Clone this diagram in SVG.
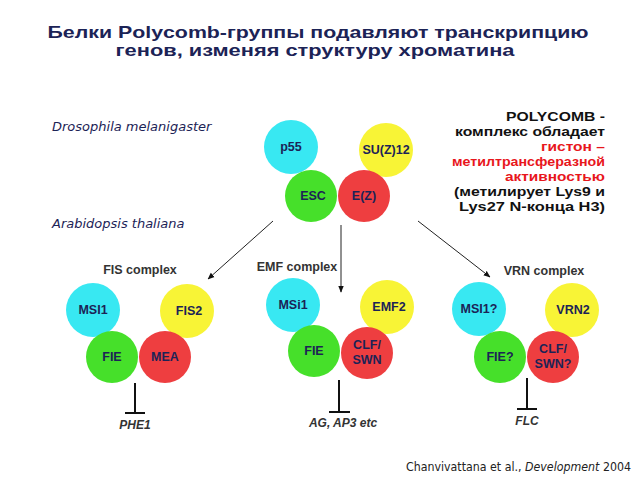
<svg xmlns="http://www.w3.org/2000/svg" width="640" height="480" viewBox="0 0 640 480">
<defs>
<marker id="ah" viewBox="0 0 10 10" refX="9" refY="5" markerWidth="7" markerHeight="7" orient="auto" markerUnits="userSpaceOnUse">
<path d="M0,1 L10,5 L0,9 z" fill="#111"/>
</marker>
<style>
.title{font-family:"Liberation Sans",Arial,sans-serif;font-weight:bold;font-size:17px;fill:#1c2356;text-anchor:middle}
.cy{fill:#38e8f2}.ye{fill:#f8f436}.gr{fill:#46e02a}.rd{fill:#ee3e40}
.lbl{font-family:"Liberation Sans",Arial,sans-serif;font-weight:bold;font-size:12.5px;fill:#1c2356;text-anchor:middle}
.cx{font-family:"Liberation Sans",Arial,sans-serif;font-weight:bold;font-size:12.5px;fill:#333;text-anchor:middle}
.gene{font-family:"Liberation Sans",Arial,sans-serif;font-weight:bold;font-style:italic;font-size:12px;fill:#333;text-anchor:middle}
.sp{font-family:"DejaVu Sans",sans-serif;font-style:italic;font-size:13px;fill:#1c2356}
.rt{font-family:"Liberation Sans",Arial,sans-serif;font-weight:bold;font-size:13.5px;text-anchor:end}
.conn{stroke:#222;stroke-width:1;fill:none}
.inh{stroke:#111;stroke-width:2;fill:none}
</style>
</defs>
<rect width="640" height="480" fill="#fff"/>
<g id="title">
<text class="title" x="318" y="38" textLength="541" lengthAdjust="spacingAndGlyphs">Белки Polycomb-группы подавляют транскрипцию</text>
<text class="title" x="315" y="56" textLength="399" lengthAdjust="spacingAndGlyphs">генов, изменяя структуру хроматина</text>
</g>
<g id="species">
<text class="sp" x="52" y="131">Drosophila melanigaster</text>
<text class="sp" x="52" y="228">Arabidopsis thaliana</text>
</g>
<g id="desc">
<text class="rt" x="605" y="121" fill="#111" textLength="99" lengthAdjust="spacingAndGlyphs">POLYCOMB -</text>
<text class="rt" x="605" y="136" fill="#111" textLength="150" lengthAdjust="spacingAndGlyphs">комплекс обладает</text>
<text class="rt" x="605" y="151" fill="#e8161c" textLength="64" lengthAdjust="spacingAndGlyphs">гистон –</text>
<text class="rt" x="605" y="166" fill="#e8161c" textLength="153" lengthAdjust="spacingAndGlyphs">метилтрансферазной</text>
<text class="rt" x="605" y="181" fill="#e8161c" textLength="100" lengthAdjust="spacingAndGlyphs">активностью</text>
<text class="rt" x="605" y="196" fill="#111" textLength="151" lengthAdjust="spacingAndGlyphs">(метилирует Lys9 и</text>
<text class="rt" x="605" y="211" fill="#111" textLength="146" lengthAdjust="spacingAndGlyphs">Lys27 N-конца H3)</text>
</g>
<g id="drosophila">
<g id="p55"><circle class="cy" cx="291" cy="147" r="27"/><text class="lbl" x="291" y="151">p55</text></g>
<g id="suz12"><circle class="ye" cx="386" cy="150" r="27"/><text class="lbl" x="386" y="154">SU(Z)12</text></g>
<g id="esc"><circle class="gr" cx="311" cy="196" r="26"/><text class="lbl" x="313" y="200">ESC</text></g>
<g id="ez"><circle class="rd" cx="364" cy="196" r="26"/><text class="lbl" x="364" y="200">E(Z)</text></g>
</g>
<g id="connectors">
<line class="conn" x1="273" y1="221" x2="208" y2="279" marker-end="url(#ah)"/>
<line class="conn" x1="341" y1="225" x2="341" y2="292" marker-end="url(#ah)"/>
<line class="conn" x1="418" y1="221" x2="490" y2="277" marker-end="url(#ah)"/>
<path class="inh" d="M135,383 V413 M125,413 H145"/>
<path class="inh" d="M339,380 V412 M329,412 H350"/>
<path class="inh" d="M527,378 V409 M517,409 H537"/>
</g>
<g id="fis">
<text class="cx" x="140" y="274">FIS complex</text>
<g id="fis-msi1"><circle class="cy" cx="93" cy="310" r="27"/><text class="lbl" x="93" y="314">MSI1</text></g>
<g id="fis2"><circle class="ye" cx="187" cy="311" r="27"/><text class="lbl" x="189" y="315">FIS2</text></g>
<g id="fis-fie"><circle class="gr" cx="112" cy="357" r="26"/><text class="lbl" x="112" y="361">FIE</text></g>
<g id="mea"><circle class="rd" cx="165" cy="357" r="26"/><text class="lbl" x="165" y="361">MEA</text></g>
<text class="gene" x="135" y="429">PHE1</text>
</g>
<g id="emf">
<text class="cx" x="297" y="271">EMF complex</text>
<g id="emf-msi1"><circle class="cy" cx="293" cy="305" r="27"/><text class="lbl" x="293" y="309">MSi1</text></g>
<g id="emf2"><circle class="ye" cx="387" cy="307" r="27"/><text class="lbl" x="389" y="311">EMF2</text></g>
<g id="emf-fie"><circle class="gr" cx="314" cy="351" r="26"/><text class="lbl" x="314" y="355">FIE</text></g>
<g id="emf-clf"><circle class="rd" cx="367" cy="353" r="26"/><text class="lbl" x="367" y="349">CLF/</text><text class="lbl" x="367" y="364">SWN</text></g>
<text class="gene" x="343" y="427">AG, AP3 etc</text>
</g>
<g id="vrn">
<text class="cx" x="544" y="275">VRN complex</text>
<g id="vrn-msi1"><circle class="cy" cx="479" cy="309" r="27"/><text class="lbl" x="479" y="313">MSI1?</text></g>
<g id="vrn2"><circle class="ye" cx="572" cy="310" r="27"/><text class="lbl" x="573" y="314">VRN2</text></g>
<g id="vrn-fie"><circle class="gr" cx="500" cy="357" r="26"/><text class="lbl" x="500" y="361">FIE?</text></g>
<g id="vrn-clf"><circle class="rd" cx="553" cy="357" r="26"/><text class="lbl" x="553" y="353">CLF/</text><text class="lbl" x="553" y="368">SWN?</text></g>
<text class="gene" x="527" y="425">FLC</text>
</g>
<g id="citation">
<text x="406" y="471" font-family="DejaVu Sans,sans-serif" font-size="11.5" fill="#222" textLength="225" lengthAdjust="spacingAndGlyphs">Chanvivattana et al., <tspan font-style="italic">Development</tspan> 2004</text>
</g>
</svg>
